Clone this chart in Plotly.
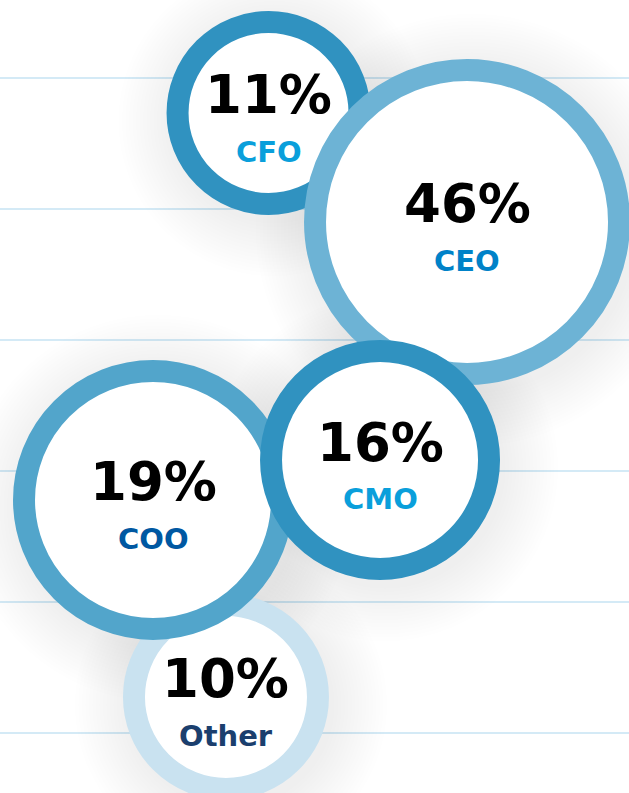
import plotly.graph_objects as go

# ---- data ----
roles = ["Other", "COO", "CFO", "CEO", "CMO"]
shares = [10, 19, 11, 46, 16]
pos_x = [1.725, 1.168, 2.050, 3.565, 2.901]
pos_y = [0.275, 1.779, 4.733, 3.901, 2.084]
grid_vals = [0, 1, 2, 3, 4, 5]

# ---- styles ----
outer_r = [103, 140, 102, 163, 120]  # px
ring_w = 22
ring_colors = ["#c9e2f0", "#52a5cb", "#3092c0", "#6db3d5", "#3092c0"]
label_colors = ["#1b3f6e", "#0058a2", "#0a9fdb", "#0082c8", "#0a9fdb"]
UNIT = 131.0

fig = go.Figure()

# soft, wide shadows (all underneath the bubbles)
for i, role in enumerate(roles):
    R = outer_r[i]
    for k in range(16):
        fig.add_trace(go.Scatter(
            x=[pos_x[i] + 5 / UNIT], y=[pos_y[i] - 8 / UNIT], mode="markers",
            marker=dict(size=2 * R + 2 + 7 * k, color="rgba(0,0,0,0.005)", line=dict(width=0)),
            hoverinfo="skip", showlegend=False))

for i, role in enumerate(roles):
    R = outer_r[i]
    fig.add_trace(go.Scatter(
        x=[pos_x[i]], y=[pos_y[i]], mode="markers",
        marker=dict(size=2 * R - ring_w, color="white",
                    line=dict(width=ring_w, color=ring_colors[i])),
        name=role, hoverinfo="skip", showlegend=False))

for i, role in enumerate(roles):
    fig.add_annotation(x=pos_x[i], y=pos_y[i], xref="x", yref="y",
                       text=f"<b>{shares[i]}%</b>", showarrow=False,
                       yshift=18, yanchor="middle",
                       font=dict(family="DejaVu Sans", size=53, color="black"))
    fig.add_annotation(x=pos_x[i], y=pos_y[i], xref="x", yref="y",
                       text=f"<b>{role}</b>", showarrow=False,
                       yshift=-39, yanchor="middle",
                       font=dict(family="DejaVu Sans", size=29, color=label_colors[i]))

fig.update_layout(
    width=629, height=793,
    margin=dict(l=0, r=0, t=0, b=0),
    paper_bgcolor="white", plot_bgcolor="white",
    xaxis=dict(range=[0, 629 / UNIT], visible=False, fixedrange=True),
    yaxis=dict(range=[-60 / UNIT, 733 / UNIT], tickvals=grid_vals, showticklabels=False,
               showgrid=True, gridcolor="#d4eaf6", gridwidth=1.5, zeroline=False,
               showline=False, ticks="", fixedrange=True),
)

fig.write_html("out.html", config={"displayModeBar": False},
               post_script="document.body.style.margin='0';document.body.style.overflow='hidden';")
